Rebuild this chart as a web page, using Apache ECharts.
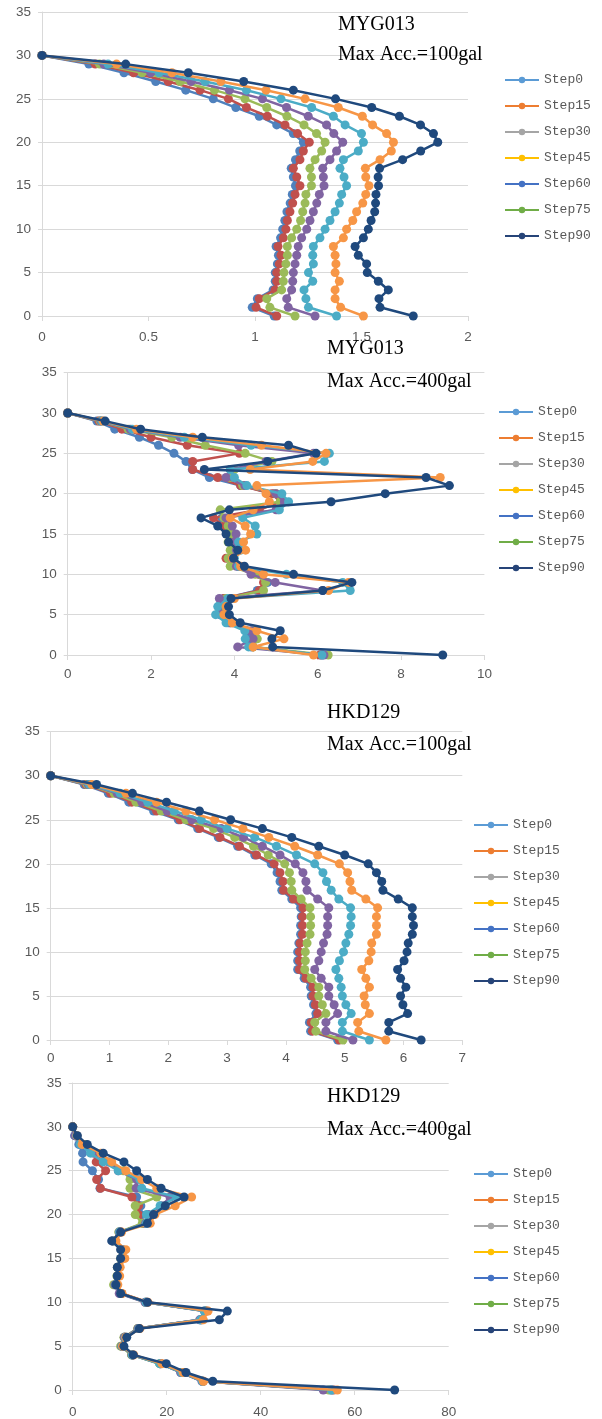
<!DOCTYPE html>
<html>
<head>
<meta charset="utf-8">
<script src="https://cdn.jsdelivr.net/npm/echarts@6/dist/echarts.min.js"></script>
<style>
  html, body { margin: 0; padding: 0; background: #fff; }
  #chart { width: 602px; height: 1419px; }
</style>
</head>
<body>
<div id="chart"></div>
<script>
// depth index, top (30) to bottom (0)
const depth = [30,29,28,27,26,25,24,23,22,21,20,19,18,17,16,15,14,13,12,11,10,9,8,7,6,5,4,3,2,1,0];
const stepNames = ['Step0','Step15','Step30','Step45','Step60','Step75','Step90'];

// MYG013, Max Acc.=100gal
const myg100_s0  = [0,0.22,0.385,0.534,0.675,0.804,0.91,1.02,1.102,1.18,1.227,1.21,1.19,1.17,1.18,1.19,1.175,1.165,1.15,1.14,1.13,1.12,1.099,1.11,1.105,1.095,1.095,1.085,1.011,0.987,1.09];
const myg100_s15 = [0,0.25,0.43,0.593,0.742,0.875,0.96,1.058,1.141,1.2,1.255,1.227,1.211,1.18,1.196,1.211,1.188,1.177,1.164,1.152,1.145,1.133,1.108,1.122,1.114,1.102,1.102,1.094,1.02,1.005,1.102];
const myg100_s30 = [0,0.27,0.47,0.648,0.81,0.953,1.055,1.15,1.23,1.289,1.329,1.313,1.282,1.258,1.265,1.265,1.239,1.235,1.224,1.214,1.196,1.172,1.152,1.152,1.145,1.136,1.133,1.125,1.055,1.07,1.188];
const myg100_s45 = [0,0.29,0.51,0.70,0.88,1.035,1.148,1.25,1.336,1.37,1.412,1.383,1.352,1.318,1.321,1.324,1.302,1.29,1.274,1.258,1.243,1.219,1.203,1.196,1.188,1.18,1.177,1.172,1.149,1.156,1.282];
const myg100_s60 = [0,0.31,0.55,0.765,0.96,1.122,1.266,1.368,1.423,1.5,1.509,1.485,1.415,1.399,1.418,1.43,1.407,1.396,1.376,1.352,1.329,1.305,1.274,1.271,1.274,1.251,1.271,1.23,1.239,1.251,1.383];
const myg100_s75 = [0,0.35,0.61,0.84,1.052,1.235,1.391,1.504,1.552,1.618,1.65,1.64,1.587,1.518,1.52,1.535,1.52,1.506,1.477,1.459,1.43,1.415,1.368,1.376,1.38,1.376,1.396,1.376,1.376,1.402,1.509];
const myg100_s90 = [0,0.393,0.687,0.947,1.18,1.378,1.548,1.678,1.777,1.838,1.858,1.778,1.693,1.585,1.578,1.58,1.568,1.566,1.562,1.545,1.532,1.509,1.47,1.485,1.524,1.527,1.579,1.626,1.582,1.587,1.743];

// MYG013, Max Acc.=400gal
const myg400_s0  = [0,0.70,1.13,1.72,2.18,2.55,2.84,2.99,3.4,4.15,4.95,5.15,5.05,3.7,3.9,3.95,3.95,4.0,3.9,4.1,4.6,4.8,4.55,3.75,3.7,3.65,3.85,4.3,4.35,4.4,6.1];
const myg400_s15 = [0,0.75,1.3,2.0,2.87,4.12,3.0,3.0,3.6,4.15,4.9,5.1,4.6,3.5,3.75,3.85,3.9,4.0,3.8,4.1,4.6,4.7,4.6,3.75,3.7,3.7,3.95,4.5,4.5,4.45,6.05];
const myg400_s30 = [0,0.78,1.45,2.5,3.3,4.26,4.9,4.0,3.9,4.2,5.0,5.1,3.66,3.75,3.85,3.9,3.85,3.9,3.85,3.9,4.5,4.75,4.7,3.8,3.75,3.7,3.9,4.45,4.55,4.45,6.25];
const myg400_s45 = [0,0.8,1.5,2.7,4.1,5.9,4.76,3.9,3.8,4.25,5.0,5.2,5.0,3.8,3.95,4.04,4.0,4.05,3.95,4.05,4.4,4.98,6.12,3.64,3.62,3.7,3.9,4.4,4.45,4.08,6.15];
const myg400_s60 = [0,0.82,1.55,2.8,4.4,6.28,6.16,3.9,4.0,4.3,5.14,5.3,5.08,4.2,4.5,4.54,4.1,4.15,4.0,4.1,5.25,6.6,6.78,3.85,3.6,3.55,3.8,4.25,4.26,4.34,6.1];
const myg400_s75 = [0,0.85,1.65,3.0,4.65,6.2,5.88,4.38,8.94,4.54,4.76,4.84,4.45,3.9,4.26,4.39,4.22,4.27,3.95,4.15,4.7,6.74,6.26,4.0,3.8,3.75,3.95,4.54,5.19,4.45,5.9];
const myg400_s90 = [0,0.9,1.75,3.23,5.3,5.96,4.8,3.28,8.6,9.16,7.62,6.32,3.88,3.2,3.6,3.8,3.86,4.08,3.98,4.24,5.42,6.82,6.12,3.92,3.86,3.88,4.14,5.1,4.9,4.92,9.0];

// HKD129, Max Acc.=100gal
const hkd100_s0  = [0,0.57,0.98,1.33,1.75,2.17,2.5,2.85,3.18,3.47,3.75,3.85,3.9,3.93,4.1,4.25,4.26,4.25,4.25,4.22,4.2,4.2,4.2,4.31,4.42,4.43,4.47,4.51,4.4,4.42,4.88];
const hkd100_s15 = [0,0.6,1.02,1.38,1.8,2.2,2.53,2.88,3.21,3.5,3.8,3.9,3.95,3.96,4.13,4.29,4.28,4.28,4.28,4.24,4.23,4.23,4.23,4.34,4.46,4.46,4.5,4.54,4.43,4.45,4.91];
const hkd100_s30 = [0,0.62,1.08,1.45,1.88,2.3,2.77,3.13,3.45,3.7,3.98,4.06,4.09,4.1,4.26,4.41,4.42,4.42,4.41,4.36,4.33,4.33,4.32,4.43,4.56,4.56,4.62,4.68,4.49,4.51,4.97];
const hkd100_s45 = [0,0.64,1.13,1.55,1.98,2.4,2.9,3.28,3.6,3.9,4.16,4.29,4.34,4.36,4.54,4.73,4.71,4.71,4.7,4.64,4.6,4.56,4.49,4.6,4.73,4.73,4.82,4.88,4.68,4.68,5.14];
const hkd100_s60 = [0,0.66,1.18,1.65,2.1,2.56,3.0,3.47,3.84,4.18,4.49,4.63,4.69,4.77,4.9,5.1,5.11,5.1,5.07,5.02,4.98,4.91,4.85,4.9,4.94,4.96,5.02,5.11,4.96,4.96,5.42];
const hkd100_s75 = [0,0.7,1.28,1.8,2.3,2.79,3.27,3.71,4.15,4.54,4.91,5.05,5.09,5.12,5.36,5.56,5.54,5.54,5.54,5.46,5.45,5.41,5.29,5.36,5.42,5.33,5.35,5.42,5.22,5.24,5.7];
const hkd100_s90 = [0,0.78,1.39,1.97,2.53,3.06,3.6,4.1,4.56,5.0,5.4,5.54,5.63,5.65,5.91,6.15,6.15,6.17,6.15,6.08,6.06,6.01,5.9,5.95,6.04,5.95,5.99,6.07,5.75,5.75,6.3];

// HKD129, Max Acc.=400gal
const hkd400_s0  = [0,0.4,1.3,2.1,2.2,4.2,5.5,5.8,13.6,14.5,14.5,15.2,10.0,8.5,10.5,10.3,9.6,9.5,9.1,10.3,15.6,28.2,27.2,13.9,11.0,10.4,12.6,18.6,23.0,27.6,55.0];
const hkd400_s15 = [0,0.6,2.2,4.8,5.0,7.0,5.1,5.9,12.6,14.0,14.0,15.0,10.2,8.6,10.6,10.5,9.7,9.7,9.2,10.4,15.8,28.5,27.5,14.0,11.1,10.5,12.8,18.8,23.3,27.8,55.5];
const hkd400_s30 = [0,0.7,2.6,5.1,7.9,10.8,12.2,12.2,17.9,13.3,13.3,14.8,9.8,8.6,10.3,10.2,9.5,9.4,8.7,10.2,15.5,28.3,27.3,13.8,10.9,10.2,12.5,18.5,23.1,27.7,54.5];
const hkd400_s45 = [0,0.5,1.9,4.4,7.6,9.7,13.6,13.5,20.7,18.9,16.1,15.5,9.9,8.5,10.4,10.3,9.6,9.5,9.0,9.9,15.4,28.0,27.0,13.9,11.0,10.4,12.6,18.7,23.0,27.5,53.3];
const hkd400_s60 = [0,0.8,1.6,3.8,6.5,9.7,14.3,14.7,22.1,18.6,15.7,15.7,10.0,8.7,10.6,10.4,9.7,9.6,9.2,10.3,15.6,28.0,27.2,14.1,11.2,10.5,12.7,18.5,23.2,27.6,55.1];
const hkd400_s75 = [0,0.9,2.0,6.0,8.3,11.3,14.7,17.9,25.3,21.8,17.5,16.5,10.4,9.2,11.3,11.1,10.1,10.0,9.6,10.5,16.0,28.8,27.8,14.3,11.3,10.6,13.0,19.0,23.5,27.8,56.3];
const hkd400_s90 = [0,1.0,3.1,6.5,10.9,13.6,15.9,18.8,23.7,19.7,17.2,15.9,10.2,8.3,10.2,10.2,9.5,9.5,9.2,10.2,15.9,32.9,31.2,14.2,11.5,10.9,12.9,19.9,24.1,29.8,68.5];

const xTicks = [[0, 2, 0.5], [0, 10, 2], [0, 7, 1], [0, 80, 20]];
const stations = ['MYG013', 'MYG013', 'HKD129', 'HKD129'];
const accLabels = ['Max Acc.=100gal', 'Max Acc.=400gal', 'Max Acc.=100gal', 'Max Acc.=400gal'];

const panelData = [
  [myg100_s0, myg100_s15, myg100_s30, myg100_s45, myg100_s60, myg100_s75, myg100_s90],
  [myg400_s0, myg400_s15, myg400_s30, myg400_s45, myg400_s60, myg400_s75, myg400_s90],
  [hkd100_s0, hkd100_s15, hkd100_s30, hkd100_s45, hkd100_s60, hkd100_s75, hkd100_s90],
  [hkd400_s0, hkd400_s15, hkd400_s30, hkd400_s45, hkd400_s60, hkd400_s75, hkd400_s90]
];

// colours actually used for the lines vs. colours shown in the legend
const lineColors = ['#4F81BD', '#C0504D', '#9BBB59', '#8064A2', '#4BACC6', '#F79646', '#1F497D'];
const legendColors = ['#5B9BD5', '#ED7D31', '#A5A5A5', '#FFC000', '#4472C4', '#70AD47', '#264478'];

// layout
const grids = [
  {left: 42, top: 12, width: 426, height: 304},
  {left: 67.7, top: 372.7, width: 416.7, height: 282.3},
  {left: 50.7, top: 731.7, width: 411.6, height: 308.3},
  {left: 72.7, top: 1083, width: 376, height: 311}
];
const legendPos = [
  {left: 504, top: 73},
  {left: 498, top: 405},
  {left: 473, top: 818},
  {left: 473, top: 1167}
];
const titlePos = [
  {left: 338, top: [13.5, 44]},
  {left: 327, top: [338, 370.7]},
  {left: 327, top: [701.7, 734]},
  {left: 327, top: [1085.7, 1119]}
];
const xLabelMargin = [14, 12, 11, 15];

const axisGray = '#D9D9D9';
const labelStyle = {color: '#595959', fontSize: 13.5, fontFamily: 'Liberation Sans'};

const chart = echarts.init(document.getElementById('chart'));

const xAxes = [], yAxes = [], series = [], titles = [], legends = [];

// legend-only series (first, so the legend takes their colours)
stepNames.forEach((nm, k) => {
  series.push({
    type: 'line', name: nm, data: [],
    color: legendColors[k], symbol: 'circle', symbolSize: 7,
    lineStyle: {width: 2.25}, xAxisIndex: 0, yAxisIndex: 0
  });
});

grids.forEach((g, p) => {
  xAxes.push({
    gridIndex: p, type: 'value',
    min: xTicks[p][0], max: xTicks[p][1], interval: xTicks[p][2],
    axisLine: {show: true, lineStyle: {color: axisGray}},
    axisTick: {show: true, length: 5, lineStyle: {color: axisGray}},
    axisLabel: Object.assign({margin: xLabelMargin[p]}, labelStyle),
    splitLine: {show: false}
  });
  yAxes.push({
    gridIndex: p, type: 'value', min: 0, max: 35, interval: 5,
    axisLine: {show: true, lineStyle: {color: axisGray}},
    axisTick: {show: true, length: 4, lineStyle: {color: axisGray}},
    axisLabel: Object.assign({margin: 11}, labelStyle),
    splitLine: {show: true, lineStyle: {color: axisGray, width: 1}}
  });
  panelData[p].forEach((xs, k) => {
    series.push({
      type: 'line', name: stepNames[k],
      xAxisIndex: p, yAxisIndex: p,
      data: xs.map((x, i) => [x, depth[i]]),
      color: lineColors[k],
      symbol: 'circle', symbolSize: 9,
      lineStyle: {width: 2.5},
      z: 2 + k
    });
  });
  titles.push({
    text: stations[p], left: titlePos[p].left, top: titlePos[p].top[0], padding: 0,
    textStyle: {fontFamily: 'Liberation Serif', fontSize: 20, fontWeight: 'normal', color: '#000', lineHeight: 22}
  });
  titles.push({
    text: accLabels[p], left: titlePos[p].left, top: titlePos[p].top[1], padding: 0,
    textStyle: {fontFamily: 'Liberation Serif', fontSize: 20, fontWeight: 'normal', color: '#000', lineHeight: 22}
  });
  legends.push({
    data: stepNames, orient: 'vertical',
    left: legendPos[p].left, top: legendPos[p].top,
    padding: 0, itemGap: 12, itemWidth: 34, itemHeight: 8,
    textStyle: {fontFamily: 'Liberation Mono', fontSize: 13, color: '#595959', lineHeight: 14}
  });
});

chart.setOption({
  animation: false,
  backgroundColor: '#fff',
  title: titles,
  legend: legends,
  grid: grids,
  xAxis: xAxes,
  yAxis: yAxes,
  series: series
});
</script>
</body>
</html>
